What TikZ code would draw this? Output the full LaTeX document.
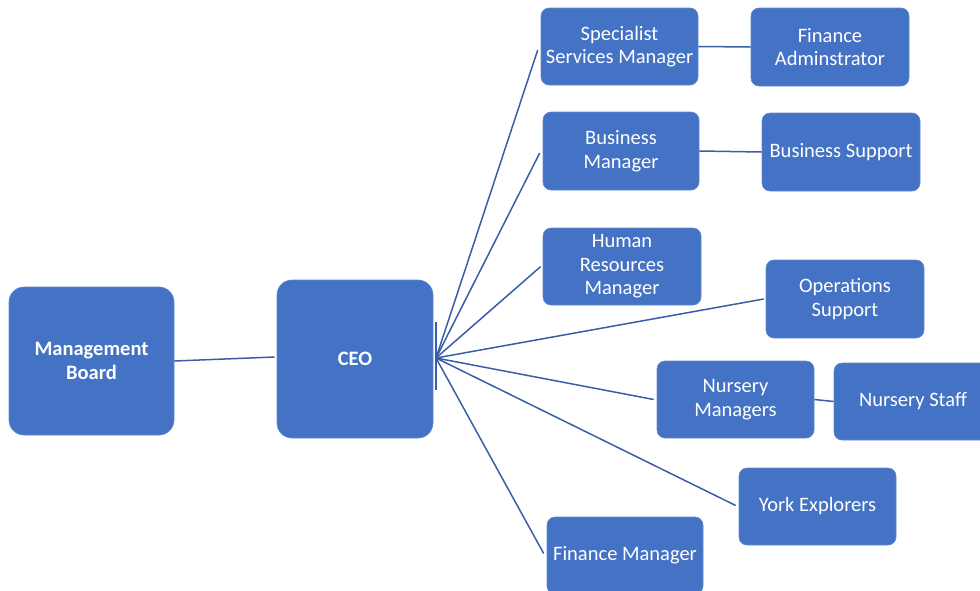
\documentclass[tikz,border=0pt]{standalone}
\usepackage{fontspec}
\setmainfont{Carlito}
\usetikzlibrary{calc}
\definecolor{boxblue}{HTML}{4472C4}
\definecolor{lineblue}{RGB}{58,94,165}
\begin{document}
\begin{tikzpicture}[x=1pt,y=-1pt,
  box/.style={rectangle, rounded corners=8pt, fill=boxblue, draw=boxblue!85!white, line width=0.6pt,
    text=white, align=center, inner sep=0pt,
    font=\fontsize{20.5}{23.5}\selectfont},
  bigbox/.style={box, rounded corners=15pt, font=\fontsize{20.5}{23.5}\selectfont\bfseries},
  conn/.style={draw=lineblue, line width=1.5pt}]
\useasboundingbox (0,0) rectangle (980,590);
\node[bigbox, minimum width=165pt, minimum height=148pt] (mb) at (91.5,361) {Management\\Board};
\node[bigbox, minimum width=156pt, minimum height=158pt] (ceo) at (355,359) {CEO};
\node[box, minimum width=157pt, minimum height=77pt] (ssm) at (619.5,46.5) {Specialist\\Services Manager};
\node[box, minimum width=158pt, minimum height=78pt] (fa) at (830,47) {Finance\\Adminstrator};
\node[box, minimum width=156pt, minimum height=78pt] (bm) at (621,151) {Business\\Manager};
\node[box, minimum width=158pt, minimum height=78pt] (bs) at (841,152) {Business Support};
\node[box, minimum width=158pt, minimum height=77pt] (hr) at (622,266.5) {Human\\Resources\\Manager};
\node[box, minimum width=158pt, minimum height=78pt] (os) at (845,299) {Operations\\Support};
\node[box, minimum width=157pt, minimum height=77pt] (nm) at (735.5,399.5) {Nursery\\Managers};
\node[box, minimum width=158pt, minimum height=77pt] (ns) at (913,401.5) {Nursery Staff};
\node[box, minimum width=157pt, minimum height=77pt] (ye) at (817.5,506.5) {York Explorers};
\node[box, minimum width=156pt, minimum height=77pt] (fm) at (625,555.5) {Finance Manager};
\coordinate (hub) at (436,358);
\coordinate (tickt) at (436,322);
\coordinate (tickb) at (436,390);
\draw[conn] (tickt) -- (tickb);
\draw[conn] (mb.east) -- ($(ceo.west)+(-2,-2)$);
\draw[conn] (hub) -- ($(ssm.west)+(-3,3.5)$);
\draw[conn] (hub) -- ($(bm.west)+(-3,2)$);
\draw[conn] (hub) -- ($(hr.west)+(-2,0)$);
\draw[conn] (hub) -- ($(os.west)+(-2,0)$);
\draw[conn] (hub) -- ($(nm.west)+(-3,0)$);
\draw[conn] (hub) -- ($(ye.west)+(-3,-1)$);
\draw[conn] (hub) -- ($(fm.west)+(-3,-2)$);
\draw[conn] (ssm.east) -- (fa.west);
\draw[conn] (bm.east) -- (bs.west);
\draw[conn] (nm.east) -- (ns.west);
\end{tikzpicture}
\end{document}
